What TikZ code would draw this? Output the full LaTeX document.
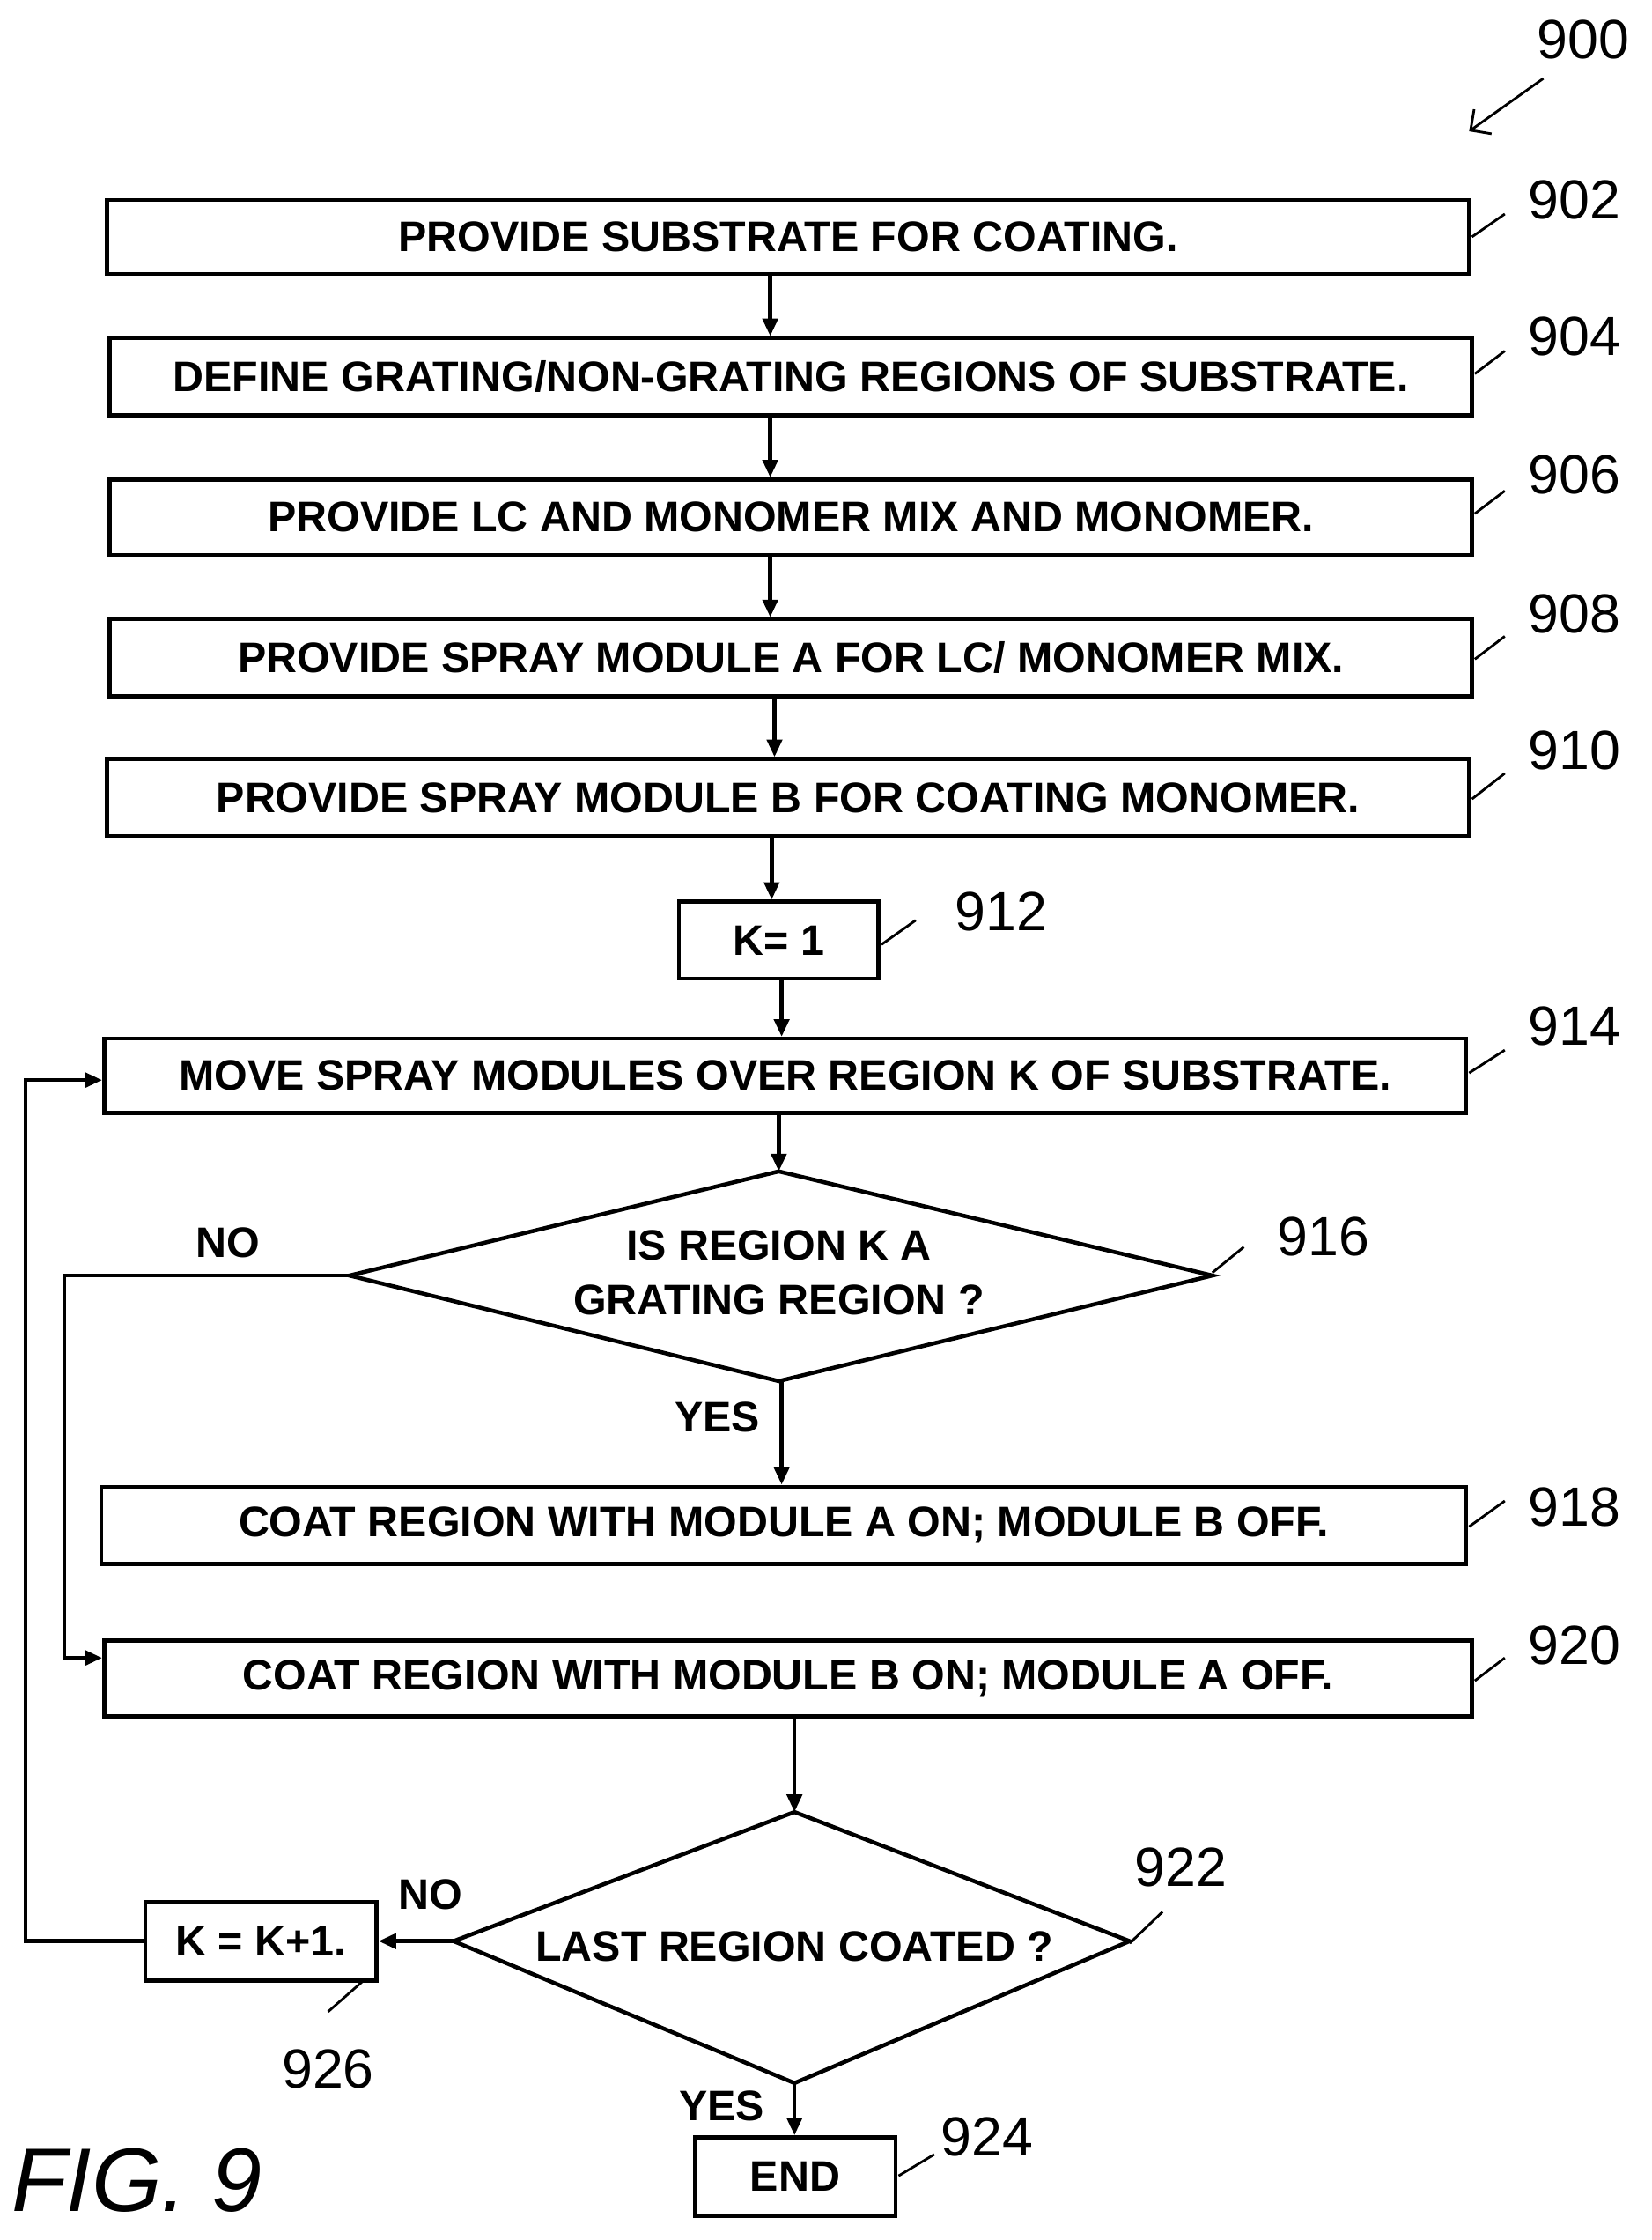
\documentclass[tikz,border=0pt]{standalone}
\usepackage{fontspec}
\setmainfont{Liberation Sans}
\usetikzlibrary{shapes.geometric,arrows.meta}
\begin{document}
\begin{tikzpicture}[x=0.02cm,y=-0.02cm,
 box/.style={draw,line width=1.6pt,inner sep=0pt,font=\fontsize{17}{20}\selectfont\bfseries},
 lbl/.style={font=\fontsize{17}{20}\selectfont\bfseries},
 num/.style={font=\fontsize{22}{26}\selectfont},
 ar/.style={line width=1.6pt,-{Triangle[length=7pt,width=6pt]}},
 ln/.style={line width=1pt}]
\useasboundingbox (0,0) rectangle (1158,1570);
\newcommand\bx[6]{\node[box,minimum width={(#3-#2)*0.02cm},minimum height={(#5-#4)*0.02cm}] (#1) at ({(#2+#3)/2},{(#4+#5)/2}) {#6};}
\bx{b902}{75}{1030}{140}{192}{PROVIDE SUBSTRATE FOR COATING.}
\bx{b904}{77}{1032}{237}{291}{DEFINE GRATING/NON-GRATING REGIONS OF SUBSTRATE.}
\bx{b906}{77}{1032}{336}{389}{PROVIDE LC AND MONOMER MIX AND MONOMER.}
\bx{b908}{77}{1032}{434}{488}{PROVIDE SPRAY MODULE A FOR LC/ MONOMER MIX.}
\bx{b910}{75}{1030}{532}{586}{PROVIDE SPRAY MODULE B FOR COATING MONOMER.}
\bx{b912}{476}{616}{632}{686}{K= 1}
\bx{b914}{73}{1028}{728}{780}{MOVE SPRAY MODULES OVER REGION K OF SUBSTRATE.}
\bx{b918}{71}{1028}{1042}{1096}{COAT REGION WITH MODULE A ON; MODULE B OFF.}
\bx{b920}{73}{1032}{1150}{1203}{COAT REGION WITH MODULE B ON; MODULE A OFF.}
\bx{b926}{102}{264}{1333}{1388}{K = K+1.}
\bx{b924}{487}{628}{1498}{1553}{END}
\draw[line width=1.6pt] (245,894) coordinate (d1l) -- (546,821) coordinate (d1t) -- (850,894) coordinate (d1r) -- (546,968) coordinate (d1b) -- cycle;
\node[lbl,align=center] (t916) at (546,892) {IS REGION K A\\[2pt]GRATING REGION ?};
\draw[line width=1.6pt] (318,1360.5) coordinate (d2l) -- (557,1270) coordinate (d2t) -- (792,1360.5) coordinate (d2r) -- (557,1460) coordinate (d2b) -- cycle;
\node[lbl] (t922) at (557,1364) {LAST REGION COATED ?};
% arrows
\draw[ar] (b902.south -| 540,0) -- (b904.north -| 540,0);
\draw[ar] (b904.south -| 540,0) -- (b906.north -| 540,0);
\draw[ar] (b906.south -| 540,0) -- (b908.north -| 540,0);
\draw[ar] (b908.south -| 543,0) -- (b910.north -| 543,0);
\draw[ar] (b910.south -| 541,0) -- (b912.north -| 541,0);
\draw[ar] (b912.south -| 548,0) -- (b914.north -| 548,0);
\draw[ar] (b914.south -| 546,0) -- (d1t);
\draw[ar] (548,968) -- (b918.north -| 548,0);
\draw[ar] (d1l) -- (45,894) -- (45,1162) -- (b920.west |- 0,1162);
\draw[ar] (b920.south -| 557,0) -- (d2t);
\draw[ar] (d2l) -- (b926.east);
\draw[ar] (b926.west) -- (18,1360.5) -- (18,757) -- (b914.west |- 0,757);
\draw[ar] (557,1460) -- (b924.north -| 557,0);
\node[lbl] (no1) at (160,871) {NO};
\node[lbl] (yes1) at (503,993) {YES};
\node[lbl] (no2) at (302,1328) {NO};
\node[lbl] (yes2) at (506,1476) {YES};
% numbers
\node[num] (n900) at (1110,28) {900};
\draw[ln,-{Straight Barb[length=6pt]}] (1082,55) -- (1030,92);
\node[num] (n902) at (1104,140) {902}; \draw[ln] (1032,166) -- (1055,150);
\node[num] (n904) at (1104,236) {904}; \draw[ln] (1034,262) -- (1055,246);
\node[num] (n906) at (1104,333) {906}; \draw[ln] (1034,360) -- (1055,344);
\node[num] (n908) at (1104,430) {908}; \draw[ln] (1034,462) -- (1055,446);
\node[num] (n910) at (1104,526) {910}; \draw[ln] (1032,560) -- (1055,542);
\node[num] (n912) at (702,639) {912}; \draw[ln] (618,662) -- (642,645);
\node[num] (n914) at (1104,719) {914}; \draw[ln] (1030,752) -- (1055,736);
\node[num] (n916) at (928,867) {916}; \draw[ln] (850,892) -- (872,874);
\node[num] (n918) at (1104,1056) {918}; \draw[ln] (1030,1070) -- (1055,1052);
\node[num] (n920) at (1104,1153) {920}; \draw[ln] (1034,1178) -- (1055,1162);
\node[num] (n922) at (828,1309) {922}; \draw[ln] (792,1362) -- (815,1340);
\node[num] (n926) at (230,1450) {926}; \draw[ln] (230,1410) -- (255,1388);
\node[num] (n924) at (692,1498) {924}; \draw[ln] (630,1525) -- (655,1510);
\node[font=\fontsize{36}{40}\selectfont\itshape] (fig) at (96,1528) {FIG. 9};
\end{tikzpicture}
\end{document}
